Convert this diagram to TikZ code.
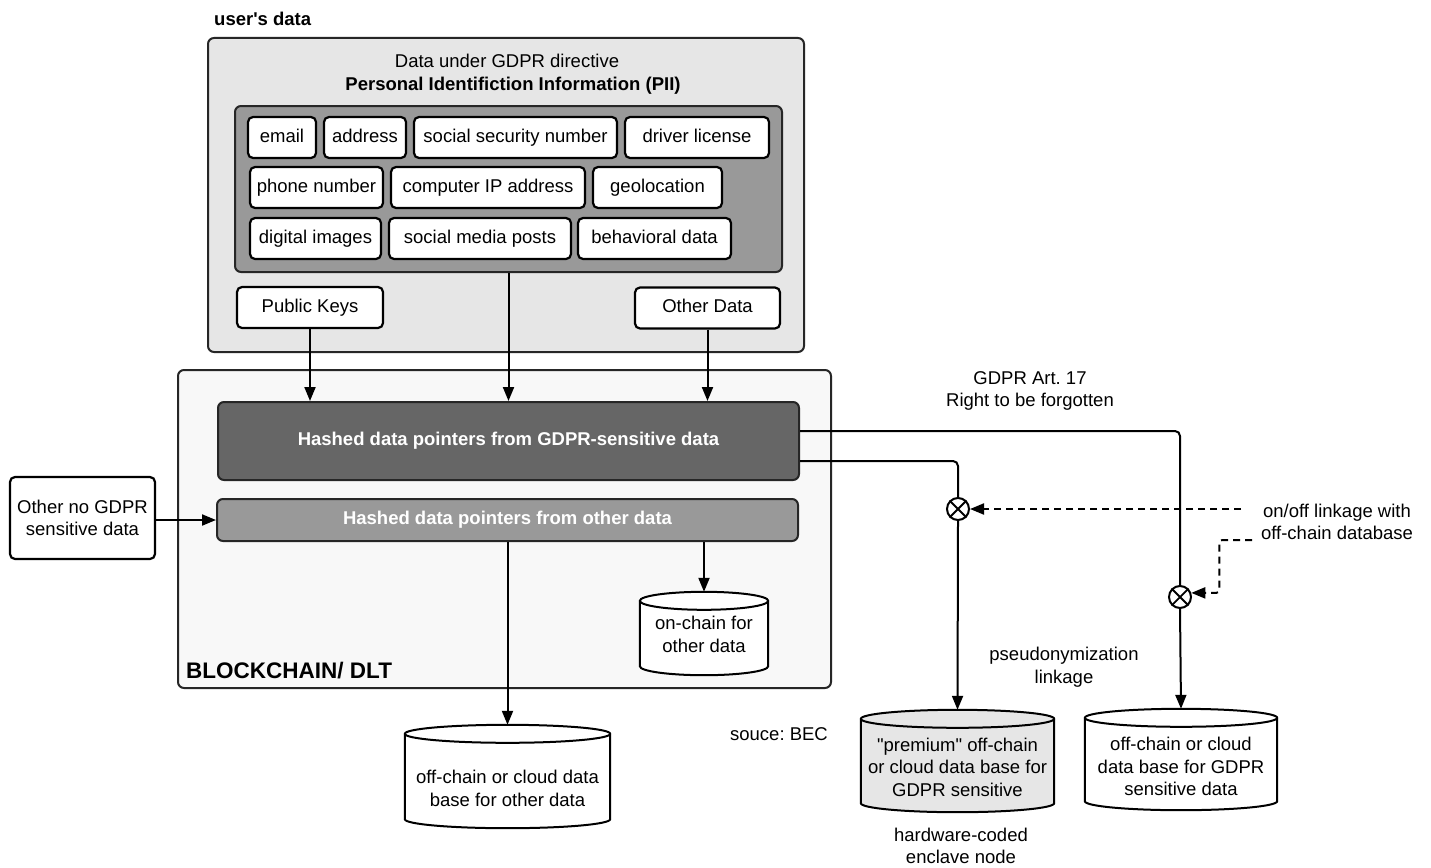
\documentclass[tikz,border=0pt]{standalone}
\usepackage{fontspec}
\setmainfont[Ligatures=TeXOff]{Liberation Sans}
\usetikzlibrary{arrows.meta,calc}
\definecolor{boxgray}{HTML}{E6E6E6}
\definecolor{midgray}{HTML}{999999}
\definecolor{darkgray2}{HTML}{666666}
\definecolor{chainbg}{HTML}{F8F8F8}
\newcommand\cylshape[2]{%
  \draw[cylline, fill=#2] let \p1=(#1.north west), \p2=(#1.south east), \n1={(\x2-\x1)/2} in
    (\x1,\y1-9pt) -- (\x1,\y2+9pt) arc[start angle=180, end angle=360, x radius=\n1, y radius=9pt]
    -- (\x2,\y1-9pt) arc[start angle=0, end angle=180, x radius=\n1, y radius=9pt] -- cycle;
  \draw[cylline] let \p1=(#1.north west), \p2=(#1.south east), \n1={(\x2-\x1)/2} in
    (\x1,\y1-9pt) arc[start angle=180, end angle=360, x radius=\n1, y radius=9pt];}
\frenchspacing
\begin{document}
\frenchspacing
\begin{tikzpicture}[x=1pt,y=-1pt,
  every node/.style={font=\fontsize{18.5}{22.5}\selectfont, inner sep=0pt},
  wbox/.style={draw=black, line width=2.2pt, fill=white, rounded corners=5pt, minimum height=41pt, text height=13.5pt, text depth=4pt},
  grp/.style={draw=black!85, line width=2pt, rounded corners=6pt},
  arr/.style={line width=2pt, -{Triangle[length=14pt,width=11pt]}},
  conn/.style={line width=2pt},
  dsh/.style={line width=2pt, dash pattern=on 7pt off 5pt},
  xcirc/.style={circle, draw, line width=2pt, minimum size=22pt, fill=white},
  cylline/.style={line width=2pt},
  cylbox/.style={draw=none, rectangle},
  lbl/.style={align=center}
]
\fill[white] (0,0) rectangle (1431,867);
\useasboundingbox (0,0) rectangle (1431,867);

% user's data group
\node[anchor=west, font=\fontsize{18.5}{22.5}\selectfont\bfseries] (ulabel) at (214,19) {user's data};
\node[grp, fill=boxgray, minimum width=596pt, minimum height=314pt] (userbox) at (506,195) {};
\node (t1) at (507,61) {Data under GDPR directive};
\node[font=\fontsize{18.5}{22.5}\selectfont\bfseries] (t2) at (513,86) {Personal Identifiction Information (PII)};
\node[grp, fill=midgray, minimum width=547pt, minimum height=166pt] (pii) at (508.5,189) {};

\node[wbox, minimum width=68pt] (email) at (282,137.5) {email};
\node[wbox, minimum width=82pt] (address) at (365,137.5) {address};
\node[wbox, minimum width=203pt] (ssn) at (515.5,137.5) {social security number};
\node[wbox, minimum width=144pt] (driver) at (697,137.5) {driver license};
\node[wbox, minimum width=133pt] (phone) at (316.5,187.5) {phone number};
\node[wbox, minimum width=194pt] (ip) at (488,187.5) {computer IP address};
\node[wbox, minimum width=129pt] (geo) at (657.5,187.5) {geolocation};
\node[wbox, minimum width=131pt] (digital) at (315.5,238.5) {digital images};
\node[wbox, minimum width=182pt] (smp) at (480,238.5) {social media posts};
\node[wbox, minimum width=153pt] (behav) at (654.5,238.5) {behavioral data};

\node[wbox, minimum width=146pt] (pubkeys) at (310,307.5) {Public Keys};
\node[wbox, minimum width=145pt] (otherdata) at (707.5,308) {Other Data};

% blockchain group
\node[grp, fill=chainbg, minimum width=653pt, minimum height=318pt] (chain) at (504.5,529) {};
\node[anchor=west, font=\fontsize{22.5}{26}\selectfont\bfseries] (chainlabel) at (186,671) {BLOCKCHAIN/ DLT};
\node[grp, fill=darkgray2, text=white, font=\fontsize{18.5}{22.5}\selectfont\bfseries, minimum width=581pt, minimum height=78pt] (hgdpr) at (508.5,441) {Hashed data pointers from GDPR-sensitive data};
\node[grp, fill=midgray, text=white, font=\fontsize{18.5}{22.5}\selectfont\bfseries, minimum width=581pt, minimum height=42pt] (hother) at (507.5,520) {Hashed data pointers from other data};

\node[wbox, lbl, minimum width=145pt, minimum height=82pt, text height=, text depth=] (otherno) at (82.5,518) {Other no GDPR\\sensitive data};

% cylinders
\node[cylbox, minimum width=128pt, minimum height=83pt] (onchain) at (704,633.5) {};
\cylshape{onchain}{white}
\node[lbl] at ([yshift=-1pt]onchain.center) {on-chain for\\other data};
\node[cylbox, minimum width=205pt, minimum height=103pt] (offother) at (507.5,776.5) {};
\cylshape{offother}{white}
\node[lbl] at ([yshift=-12pt]offother.center) {off-chain or cloud data\\base for other data};
\node[cylbox, minimum width=193pt, minimum height=102pt] (premium) at (957.5,761) {};
\cylshape{premium}{boxgray}
\node[lbl] at ([yshift=-6pt]premium.center) {"premium" off-chain\\or cloud data base for\\GDPR sensitive};
\node[cylbox, minimum width=192pt, minimum height=101pt] (offgdpr) at (1181,759.5) {};
\cylshape{offgdpr}{white}
\node[lbl] at ([yshift=-7pt]offgdpr.center) {off-chain or cloud\\data base for GDPR\\sensitive data};

% switches
\node[xcirc] (c1) at (958,509) {};
\draw[line width=1.8pt] (c1.45) -- (c1.225) (c1.135) -- (c1.315);
\node[xcirc] (c2) at (1180,597) {};
\draw[line width=1.8pt] (c2.45) -- (c2.225) (c2.135) -- (c2.315);

% labels
\node[lbl] (art17) at (1030,391) {GDPR Art. 17\\Right to be forgotten};
\node[lbl] (onoff) at (1337,522) {on/off linkage with\\off-chain database};
\node[lbl] (pseudo) at (1064,667) {pseudonymization\\linkage};
\node (source) at (779,734) {souce: BEC};
\node[lbl] (enclave) at (961,846) {hardware-coded\\enclave node};

% connectors
\draw[arr] (pubkeys.south) -- (pubkeys.south |- hgdpr.north);
\draw[arr] (pii.south) -- (pii.south |- hgdpr.north);
\draw[arr] (otherdata.south) -- (otherdata.south |- hgdpr.north);
\draw[arr] (otherno.east |- hother.west) -- (hother.west);
\draw[arr] (hother.south) -- (offother.north);
\draw[arr] (hother.south -| onchain.north) -- (onchain.north);
\draw[conn, rounded corners=5pt] ([yshift=10pt]hgdpr.east) -| (c2.north);
\draw[arr] (c2.south) -- (offgdpr.north);
\draw[conn, rounded corners=5pt] ([yshift=-20pt]hgdpr.east) -| (c1.north);
\draw[arr] (c1.south) -- (premium.north);
\coordinate (d1) at (1241,509);
\coordinate (d2) at (1252,540);
\draw[dsh, -{Triangle[length=14pt,width=11pt]}] (d1) -- (c1.east);
\draw[dsh, rounded corners=3pt, -{Triangle[length=14pt,width=11pt]}] (d2) -| ([xshift=28pt]c2.20) -- (c2.20);
\end{tikzpicture}
\end{document}
